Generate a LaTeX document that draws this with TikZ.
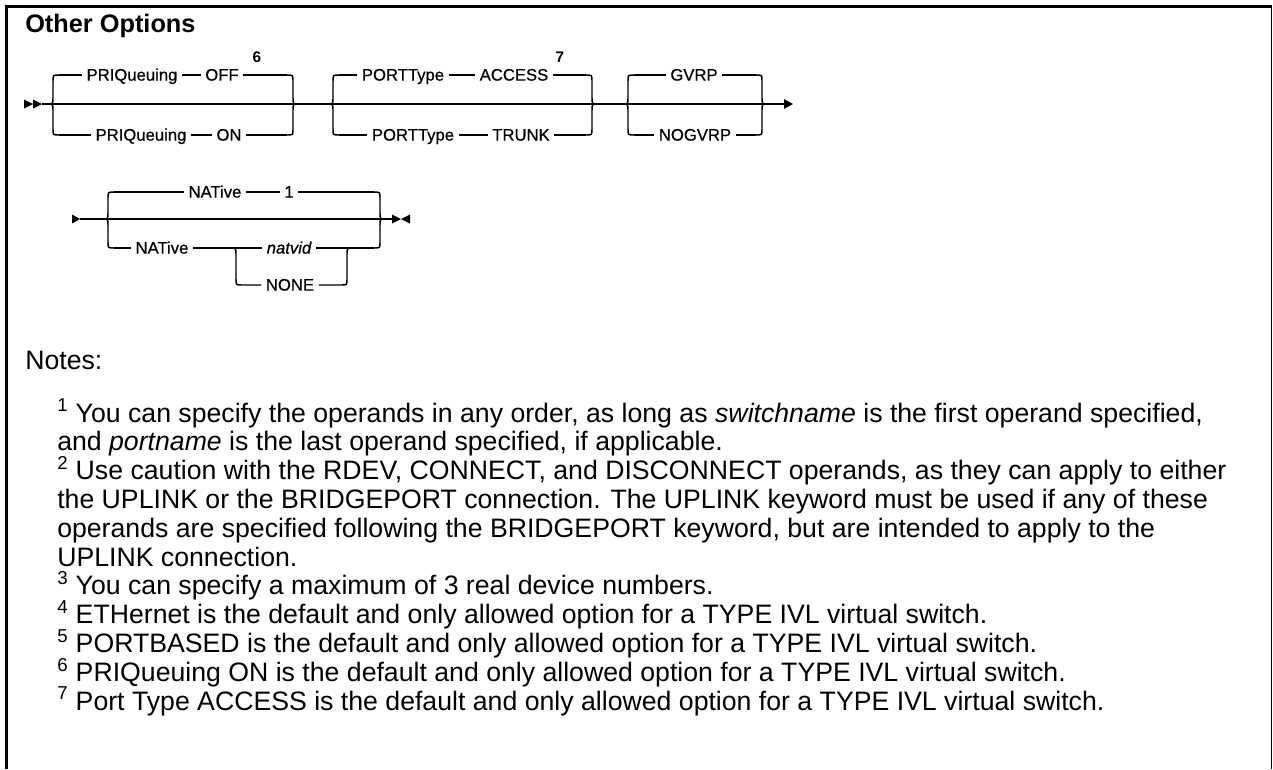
\documentclass[tikz,border=0pt]{standalone}
\usepackage{fontspec}
\setmainfont{Liberation Sans}
\newfontfamily\railfont{Liberation Sans}[FakeBold=0.6]
\usepackage{tikz}

\begin{document}
\begin{tikzpicture}[x=0.75pt, y=-0.75pt,
  rail/.style={line width=1.1pt},
  kw/.style={font=\railfont\fontsize{12.5}{14}\selectfont, inner xsep=3.3pt, inner ysep=1pt, text height=9pt, text depth=0.6pt},
  var/.style={kw, font=\railfont\fontsize{12.5}{14}\selectfont\itshape},
  fnmark/.style={font=\fontsize{11.5}{13}\selectfont\bfseries, inner sep=0pt},
  note/.style={font=\fontsize{20}{23}\selectfont, inner sep=0pt, anchor=base west}]
\useasboundingbox (0,0) rectangle (1273,769);

% frame, open at the bottom
\draw[line width=2.25pt] (6,769) -- (6,6.5) -- (1271.5,6.5);
\draw[line width=1.1pt] (1271.5,6.5) -- (1271.5,769);
\node[font=\fontsize{19}{22}\selectfont\bfseries, inner sep=0pt, anchor=base west] (title) at (25,32) {Other Options};

% ---- first rail ----
\fill (24,99.5) -- (33,104) -- (24,108.5) -- cycle;
\fill (33,99.5) -- (42,104) -- (33,108.5) -- cycle;
\coordinate (r1a) at (42,104);
\coordinate (r1z) at (784,104);
\draw[rail] (r1a) -- (r1z);
\fill (784,99) -- (793,104) -- (784,109) -- cycle;

% PRIQueuing group
\draw[rail] (47,104) .. controls (53,104) .. (53,98) -- (53,81) .. controls (53,75) .. (59,75);
\draw[rail] (47,104) .. controls (53,104) .. (53,110) -- (53,129) .. controls (53,135) .. (59,135);
\draw[rail] (287,75) .. controls (293,75) .. (293,81) -- (293,98) .. controls (293,104) .. (299,104);
\draw[rail] (287,135) .. controls (293,135) .. (293,129) -- (293,110) .. controls (293,104) .. (299,104);
\coordinate (g1ul) at (59,75);
\coordinate (g1ur) at (287,75);
\coordinate (g1ll) at (59,135);
\coordinate (g1lr) at (287,135);
\node[kw] (priq1) at (132,75) {PRIQueuing};
\node[kw] (off) at (222,75) {OFF};
\node[fnmark] (fn6) at (257,57) {6};
\node[kw] (priq2) at (141,135) {PRIQueuing};
\node[kw] (on) at (229,135) {ON};
\draw[rail] (g1ul) -- (priq1) -- (off) -- (g1ur);
\draw[rail] (g1ll) -- (priq2) -- (on) -- (g1lr);

% PORTType group
\draw[rail] (327,104) .. controls (333,104) .. (333,98) -- (333,81) .. controls (333,75) .. (339,75);
\draw[rail] (327,104) .. controls (333,104) .. (333,110) -- (333,129) .. controls (333,135) .. (339,135);
\draw[rail] (586,75) .. controls (592,75) .. (592,81) -- (592,98) .. controls (592,104) .. (598,104);
\draw[rail] (586,135) .. controls (592,135) .. (592,129) -- (592,110) .. controls (592,104) .. (598,104);
\coordinate (g2ul) at (339,75);
\coordinate (g2ur) at (586,75);
\coordinate (g2ll) at (339,135);
\coordinate (g2lr) at (586,135);
\node[kw] (port1) at (403,75) {PORTType};
\node[kw] (access) at (514,75) {ACCESS};
\node[fnmark] (fn7) at (560,57) {7};
\node[kw] (port2) at (413,135) {PORTType};
\node[kw] (trunk) at (521,135) {TRUNK};
\draw[rail] (g2ul) -- (port1) -- (access) -- (g2ur);
\draw[rail] (g2ll) -- (port2) -- (trunk) -- (g2lr);

% GVRP group
\draw[rail] (622,104) .. controls (628,104) .. (628,98) -- (628,81) .. controls (628,75) .. (634,75);
\draw[rail] (622,104) .. controls (628,104) .. (628,110) -- (628,129) .. controls (628,135) .. (634,135);
\draw[rail] (756,75) .. controls (762,75) .. (762,81) -- (762,98) .. controls (762,104) .. (768,104);
\draw[rail] (756,135) .. controls (762,135) .. (762,129) -- (762,110) .. controls (762,104) .. (768,104);
\coordinate (g3ul) at (634,75);
\coordinate (g3ur) at (756,75);
\coordinate (g3ll) at (634,135);
\coordinate (g3lr) at (756,135);
\node[kw] (gvrp) at (694,75) {GVRP};
\node[kw] (nogvrp) at (695,135) {NOGVRP};
\draw[rail] (g3ul) -- (gvrp) -- (g3ur);
\draw[rail] (g3ll) -- (nogvrp) -- (g3lr);

% ---- second rail ----
\fill (72,214.5) -- (80,219) -- (72,223.5) -- cycle;
\coordinate (r2a) at (80,219);
\coordinate (r2z) at (392,219);
\draw[rail] (r2a) -- (r2z);
\fill (392,214.5) -- (401,219) -- (392,223.5) -- cycle;
\fill (410,214.5) -- (401,219) -- (410,223.5) -- cycle;

% NATive group
\draw[rail] (102,219) .. controls (108,219) .. (108,213) -- (108,198) .. controls (108,192) .. (114,192);
\draw[rail] (102,219) .. controls (108,219) .. (108,225) -- (108,242) .. controls (108,248) .. (114,248);
\draw[rail] (374,192) .. controls (380,192) .. (380,198) -- (380,213) .. controls (380,219) .. (386,219);
\draw[rail] (374,248) .. controls (380,248) .. (380,242) -- (380,225) .. controls (380,219) .. (386,219);
\coordinate (g4ul) at (114,192);
\coordinate (g4ur) at (374,192);
\coordinate (g4ll) at (114,248);
\coordinate (g4lr) at (374,248);
\node[kw] (nat1) at (215,192) {NATive};
\node[kw] (one) at (289,192) {1};
\node[kw] (nat2) at (162,248) {NATive};
\node[var] (natvid) at (289,248) {natvid};
\node[kw] (none) at (290,285) {NONE};
\draw[rail] (g4ul) -- (nat1) -- (one) -- (g4ur);
\draw[rail] (g4ll) -- (nat2) -- (natvid) -- (g4lr);
\coordinate (split) at (230,248);
\coordinate (join) at (353,248);
\draw[rail] (split) .. controls (236,248) .. (236,254) -- (236,279) .. controls (236,285) .. (242,285) -- (none);
\draw[rail] (none) -- (341,285) .. controls (347,285) .. (347,279) -- (347,254) .. controls (347,248) .. (join);

% notes
\node[note] (notes) at (25,369) {Notes:};
\node[note] (fn1a) at (57,422) {\textsuperscript{1} You can specify the operands in any order, as long as \textit{switchname} is the first operand specified,};
\node[note] (fn1b) at (57,450.8) {and \textit{portname} is the last operand specified, if applicable.};
\node[note] (fn2a) at (57,479.6) {\textsuperscript{2} Use caution with the RDEV, CONNECT, and DISCONNECT operands, as they can apply to either};
\node[note] (fn2b) at (57,508.4) {the UPLINK or the BRIDGEPORT connection. The UPLINK keyword must be used if any of these};
\node[note] (fn2c) at (57,537.2) {operands are specified following the BRIDGEPORT keyword, but are intended to apply to the};
\node[note] (fn2d) at (57,566) {UPLINK connection.};
\node[note] (fn3) at (57,594.8) {\textsuperscript{3} You can specify a maximum of 3 real device numbers.};
\node[note] (fn4) at (57,623.6) {\textsuperscript{4} ETHernet is the default and only allowed option for a TYPE IVL virtual switch.};
\node[note] (fn5) at (57,652.4) {\textsuperscript{5} PORTBASED is the default and only allowed option for a TYPE IVL virtual switch.};
\node[note] (fn6n) at (57,681.2) {\textsuperscript{6} PRIQueuing ON is the default and only allowed option for a TYPE IVL virtual switch.};
\node[note] (fn7n) at (57,710) {\textsuperscript{7} Port Type ACCESS is the default and only allowed option for a TYPE IVL virtual switch.};
\end{tikzpicture}
\end{document}
